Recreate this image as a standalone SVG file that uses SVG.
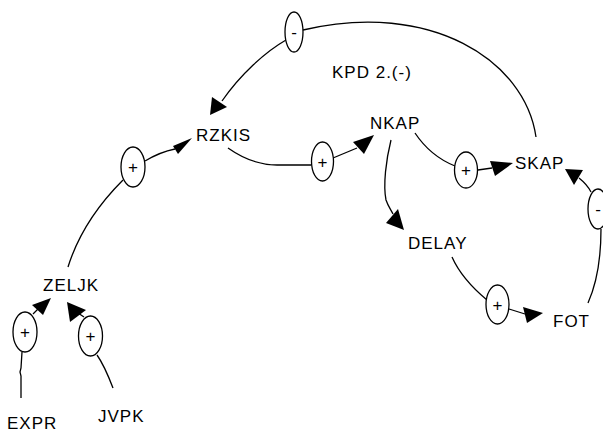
<svg xmlns="http://www.w3.org/2000/svg" width="603" height="432" viewBox="0 0 603 432">
<style>
.lbl{font-family:"Liberation Sans",Arial,sans-serif;font-size:17px;letter-spacing:1px;fill:#000}
.sg{font-family:"Liberation Sans",Arial,sans-serif;font-size:17px;fill:#000;text-anchor:middle}
.ln{fill:none;stroke:#000;stroke-width:1.3}
.el{fill:#fff;stroke:#000;stroke-width:1.3}
.ah{fill:#000;stroke:none}
</style>
<rect width="603" height="432" fill="#fff"/>
<g id="connectors">
<path class="ln" d="M536,137 C525,60 430,0 303,30"/>
<path class="ln" d="M286,40 C265,52 240,75 222,101"/>
<polygon class="ah" points="210,115 212,97 227,107"/>
<path class="ln" d="M228,148 C245,160 262,165 277,165 L311,165"/>
<path class="ln" d="M333,158 L357,148"/>
<polygon class="ah" points="374,135 353,142 364,154"/>
<path class="ln" d="M415,133 C425,148 440,160 455,166"/>
<path class="ln" d="M478,170 L492,168"/>
<polygon class="ah" points="513,163 490,161 495,176"/>
<path class="ln" d="M391,140 C386,160 383,185 386,200 C388,206 391,210 393,214"/>
<polygon class="ah" points="404,230 386,223 398,209"/>
<path class="ln" d="M452,257 C460,275 475,290 487,300"/>
<path class="ln" d="M509,309 L525,314"/>
<polygon class="ah" points="543,313 523,307 527,323"/>
<path class="ln" d="M588,303 C596,285 601,260 601,229"/>
<path class="ln" d="M591,192 C588,186 584,182 579,178"/>
<polygon class="ah" points="565,169 583,170 574,185"/>
<path class="ln" d="M68,267 C78,235 98,205 123,180"/>
<path class="ln" d="M145,161 C155,155 165,151 175,149"/>
<polygon class="ah" points="192,138 173,146 178,154"/>
<path class="ln" d="M21,398 L21,376 L20,372 L21,368 L22,352"/>
<path class="ln" d="M33,314 L38,309"/>
<polygon class="ah" points="51,298 32,305 43,315"/>
<path class="ln" d="M113,388 C108,375 102,362 97,355"/>
<path class="ln" d="M84,317 L78,313"/>
<polygon class="ah" points="67,302 70,322 86,310"/>
</g>
<g id="signs">
<g id="s1"><ellipse class="el" cx="294" cy="32" rx="9" ry="20"/><text class="sg" x="294" y="38">-</text></g>
<g id="s2"><ellipse class="el" cx="322.5" cy="161.5" rx="11" ry="19.5"/><text class="sg" x="322.5" y="167.5">+</text></g>
<g id="s3"><ellipse class="el" cx="466" cy="170" rx="11.5" ry="18"/><text class="sg" x="466" y="176">+</text></g>
<g id="s4"><ellipse class="el" cx="598" cy="209" rx="10" ry="20"/><text class="sg" x="598" y="215">-</text></g>
<g id="s5"><ellipse class="el" cx="497.5" cy="304.5" rx="11.5" ry="19.5"/><text class="sg" x="497.5" y="310.5">+</text></g>
<g id="s6"><ellipse class="el" cx="133" cy="167" rx="12" ry="20"/><text class="sg" x="133" y="173">+</text></g>
<g id="s7"><ellipse class="el" cx="25" cy="332" rx="12" ry="20"/><text class="sg" x="25" y="338">+</text></g>
<g id="s8"><ellipse class="el" cx="90.5" cy="336" rx="12" ry="20"/><text class="sg" x="90.5" y="342">+</text></g>
</g>
<g id="n-kpd"><text class="lbl" x="332" y="78">KPD 2.(-)</text></g>
<g id="n-rzkis"><text class="lbl" x="196" y="141">RZKIS</text></g>
<g id="n-nkap"><text class="lbl" x="370" y="129">NKAP</text></g>
<g id="n-skap"><text class="lbl" x="515" y="169">SKAP</text></g>
<g id="n-delay"><text class="lbl" x="408" y="249">DELAY</text></g>
<g id="n-fot"><text class="lbl" x="553" y="327">FOT</text></g>
<g id="n-zeljk"><text class="lbl" x="43" y="291">ZELJK</text></g>
<g id="n-expr"><text class="lbl" x="7" y="429">EXPR</text></g>
<g id="n-jvpk"><text class="lbl" x="98" y="422">JVPK</text></g>
</svg>
